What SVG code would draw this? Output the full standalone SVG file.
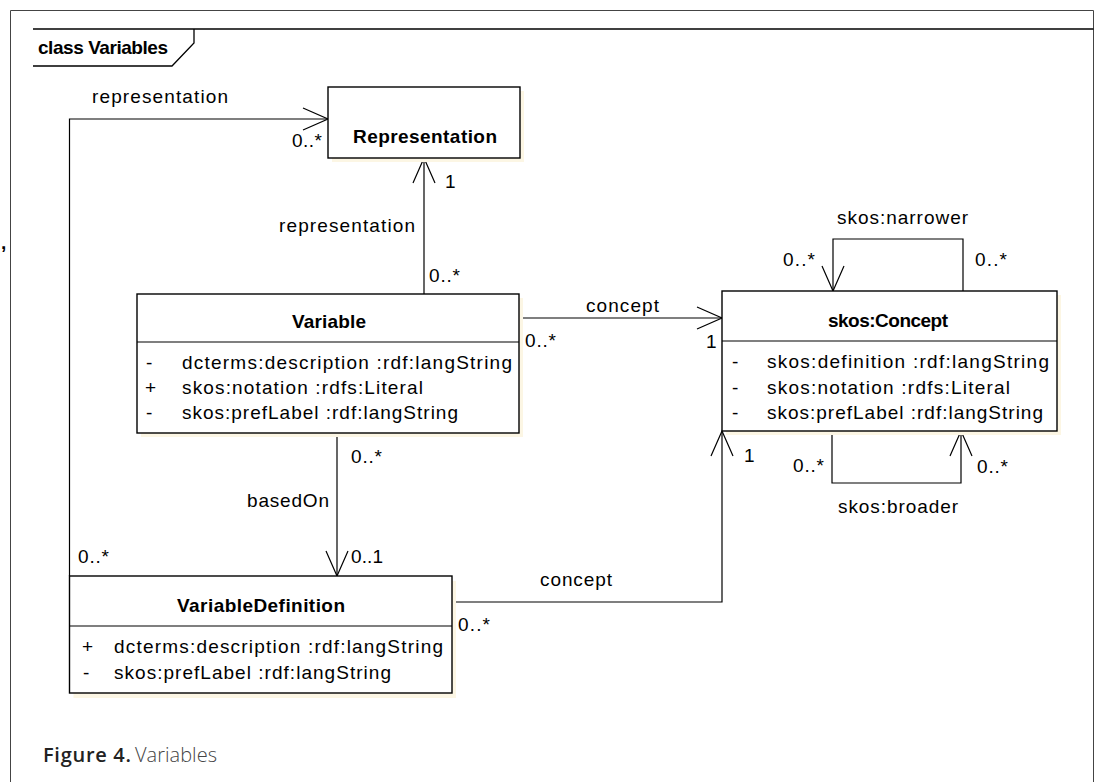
<svg xmlns="http://www.w3.org/2000/svg" width="1105" height="782" viewBox="0 0 1105 782">
<style>
.t{font-family:"Liberation Sans",Arial,sans-serif;font-size:19px;fill:#000}
.b{font-weight:bold}
.box{fill:#fff;stroke:#000;stroke-width:1.4}
.sh{fill:#fcf6e4;stroke:none}
.c{fill:none;stroke:#000;stroke-width:1.2}
.cap{font-family:"Open Sans","Liberation Sans",sans-serif;font-size:20px}
</style>
<defs>
<marker id="arr" viewBox="-28 -14 30 28" markerWidth="30" markerHeight="28" refX="0" refY="0" markerUnits="userSpaceOnUse" orient="auto" overflow="visible">
<path d="M-25,-11 L0,0 L-25,11" fill="none" stroke="#000" stroke-width="1.2"/>
</marker>
</defs>
<rect width="1105" height="782" fill="#fff"/>
<g id="frame">
<path d="M10.5,782 V10.5 H1093.5 V782" fill="none" stroke="#444" stroke-width="1"/>
<path d="M33,29 H1093.5" fill="none" stroke="#000" stroke-width="1.5"/>
<path d="M33,66 H172 L194,43 V29" fill="none" stroke="#000" stroke-width="1.3"/>
<text class="t b" x="38" y="54" textLength="130" font-size="18">class Variables</text>
<text class="t b" x="1" y="249" font-size="16">,</text>
</g>
<g id="connectors">
<path class="c" d="M424,294 V158" marker-end="url(#arr)"/>
<path class="c" d="M69.5,576 V119 H328" marker-end="url(#arr)"/>
<path class="c" d="M519,318 H722" marker-end="url(#arr)"/>
<path class="c" d="M337,433 V576" marker-end="url(#arr)"/>
<path class="c" d="M452,602 H722 V431" marker-end="url(#arr)"/>
<path class="c" d="M963,291 V239 H833 V291" marker-end="url(#arr)"/>
<path class="c" d="M832,431 V483 H961 V431" marker-end="url(#arr)"/>
<text class="t" x="92" y="103" textLength="136">representation</text>
<text class="t" x="292" y="147" textLength="30">0..*</text>
<text class="t" x="445" y="188">1</text>
<text class="t" x="279" y="232" textLength="136">representation</text>
<text class="t" x="429" y="282" textLength="31">0..*</text>
<text class="t" x="586" y="312" textLength="73">concept</text>
<text class="t" x="525" y="347" textLength="31">0..*</text>
<text class="t" x="706" y="348">1</text>
<text class="t" x="837" y="224" textLength="131">skos:narrower</text>
<text class="t" x="783" y="266" textLength="32">0..*</text>
<text class="t" x="975" y="266" textLength="32">0..*</text>
<text class="t" x="793" y="472" textLength="31">0..*</text>
<text class="t" x="977" y="473" textLength="31">0..*</text>
<text class="t" x="838" y="513" textLength="120">skos:broader</text>
<text class="t" x="744" y="462">1</text>
<text class="t" x="351" y="463" textLength="31">0..*</text>
<text class="t" x="247" y="507" textLength="82">basedOn</text>
<text class="t" x="351" y="563" textLength="32">0..1</text>
<text class="t" x="78" y="563" textLength="31">0..*</text>
<text class="t" x="540" y="586" textLength="72">concept</text>
<text class="t" x="458" y="631" textLength="32">0..*</text>
</g>
<g id="Representation">
<rect class="sh" x="332" y="91" width="192" height="71"/>
<rect class="box" x="328" y="87" width="192" height="71"/>
<text class="t b" x="353" y="143" textLength="144">Representation</text>
</g>
<g id="Variable">
<rect class="sh" x="141" y="298" width="382" height="139"/>
<rect class="box" x="137" y="294" width="382" height="139"/>
<path class="c" d="M137,342 H519" stroke-width="1.4"/>
<text class="t b" x="292" y="328" textLength="74">Variable</text>
<text class="t" x="146" y="369">-</text>
<text class="t" x="182" y="369" textLength="330">dcterms:description :rdf:langString</text>
<text class="t" x="145" y="394">+</text>
<text class="t" x="182" y="394" textLength="241">skos:notation :rdfs:Literal</text>
<text class="t" x="146" y="419">-</text>
<text class="t" x="182" y="419" textLength="276">skos:prefLabel :rdf:langString</text>
</g>
<g id="skosConcept">
<rect class="sh" x="726" y="295" width="335" height="140"/>
<rect class="box" x="722" y="291" width="335" height="140"/>
<path class="c" d="M722,341 H1057" stroke-width="1.4"/>
<text class="t b" x="828" y="327" textLength="120">skos:Concept</text>
<text class="t" x="732" y="368">-</text>
<text class="t" x="767" y="368" textLength="282">skos:definition :rdf:langString</text>
<text class="t" x="732" y="394">-</text>
<text class="t" x="767" y="394" textLength="243">skos:notation :rdfs:Literal</text>
<text class="t" x="732" y="419">-</text>
<text class="t" x="767" y="419" textLength="276">skos:prefLabel :rdf:langString</text>
</g>
<g id="VariableDefinition">
<rect class="sh" x="73.5" y="581" width="382.5" height="117"/>
<rect class="box" x="69.5" y="576" width="382.5" height="117"/>
<path class="c" d="M69.5,626 H452" stroke-width="1.4"/>
<text class="t b" x="177" y="612" textLength="168">VariableDefinition</text>
<text class="t" x="82" y="653">+</text>
<text class="t" x="114" y="653" textLength="329">dcterms:description :rdf:langString</text>
<text class="t" x="83" y="679">-</text>
<text class="t" x="114" y="679" textLength="277">skos:prefLabel :rdf:langString</text>
</g>
<g id="caption">
<text class="cap" x="43" y="762" font-weight="600" fill="#222" textLength="88">Figure 4.</text>
<text class="cap" x="135" y="762" font-weight="300" fill="#444" textLength="82">Variables</text>
</g>
</svg>
